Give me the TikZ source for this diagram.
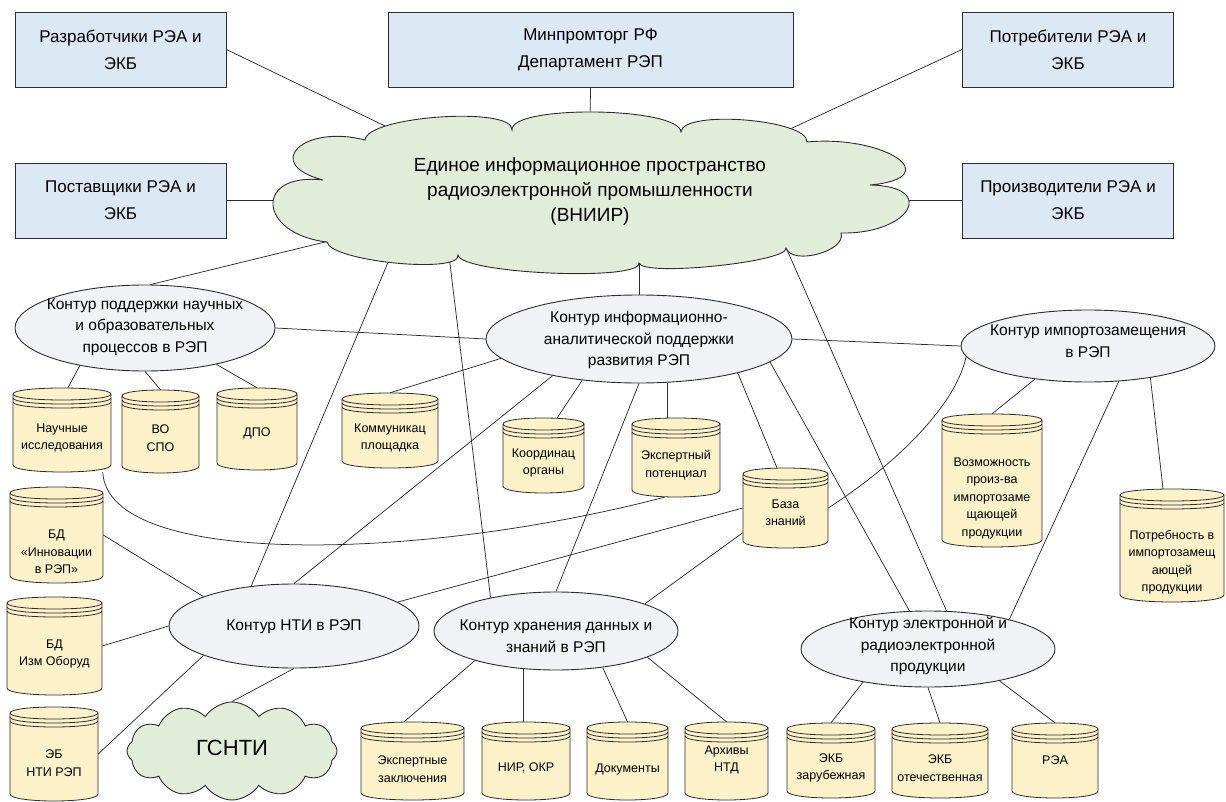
\documentclass[tikz,border=0pt]{standalone}
\usepackage{fontspec}
\setmainfont{Liberation Sans}
\usetikzlibrary{shapes.geometric,shapes.symbols,calc}
\pgfdeclarelayer{background}
\pgfsetlayers{background,main}
\definecolor{boxfill}{RGB}{220,233,244}
\definecolor{cloudfill}{RGB}{226,237,217}
\definecolor{ellfill}{RGB}{241,242,245}
\definecolor{dbfillc}{RGB}{252,241,200}
\definecolor{edgec}{RGB}{45,45,45}
\tikzset{
  topbox/.style={draw=edgec, line width=0.9pt, fill=boxfill, minimum width=211pt, minimum height=75pt, inner sep=0pt, align=center, font=\fontsize{17}{27}\selectfont},
  cloudsh/.style={cloud, draw=edgec, line width=0.9pt, fill=cloudfill, inner sep=0pt},
  cloudpath/.style={draw=edgec, line width=0.9pt, fill=cloudfill},
  anchorell/.style={ellipse, draw=none, fill=none, inner sep=0pt},
  cloudtext/.style={inner sep=0pt, align=center, font=\fontsize{19}{25}\selectfont},
  ell/.style={ellipse, draw=edgec, line width=0.9pt, fill=ellfill, inner sep=0pt},
  elltext/.style={inner sep=0pt, align=center, font=\fontsize{15.5}{21.5}\selectfont},
  dbshape/.style={draw=edgec, line width=0.8pt, fill=dbfillc},
  dbline/.style={draw=edgec, line width=0.8pt},
  dbarea/.style={rectangle, draw=none, inner sep=0pt},
  dbtext/.style={inner sep=0pt, align=center, font=\fontsize{12.5}{17.5}\selectfont},
  conn/.style={draw=edgec, line width=0.75pt}
}
\newcommand\cbump[6]{.. controls ({#1+1.3333*((#3)-((#1)+(#5))/2)},{#2+1.3333*((#4)-((#2)+(#6))/2)}) and ({#5+1.3333*((#3)-((#1)+(#5))/2)},{#6+1.3333*((#4)-((#2)+(#6))/2)}) .. (#5,#6)}
\newcommand\dbcyl[7]{%
  \pgfmathsetmacro\dbXa{#2}\pgfmathsetmacro\dbXb{#4}%
  \pgfmathsetmacro\dbYa{#3+6}%
  \pgfmathsetmacro\dbYc{#3-2}%
  \pgfmathsetmacro\dbYf{#3+14}%
  \pgfmathsetmacro\dbYs{#5-7}%
  \pgfmathsetmacro\dbYb{#5+2.33}%
  \pgfmathsetmacro\dbW{#4-#2}\pgfmathsetmacro\dbH{#5-#3}%
  \pgfmathsetmacro\dbCx{(#2+#4)/2}\pgfmathsetmacro\dbCy{(#3+#5)/2}%
  \filldraw[dbshape] (\dbXa,\dbYa) -- (\dbXa,\dbYs) .. controls (\dbXa,\dbYb) and (\dbXb,\dbYb) .. (\dbXb,\dbYs) -- (\dbXb,\dbYa) .. controls (\dbXb,\dbYc) and (\dbXa,\dbYc) .. (\dbXa,\dbYa) -- cycle;
  \draw[dbline] (\dbXa,\dbYa) .. controls (\dbXa,\dbYf) and (\dbXb,\dbYf) .. (\dbXb,\dbYa);
  \draw[dbline] (\dbXa,\dbYa+4) .. controls (\dbXa,\dbYf+4) and (\dbXb,\dbYf+4) .. (\dbXb,\dbYa+4);
  \draw[dbline] (\dbXa,\dbYa+8) .. controls (\dbXa,\dbYf+8) and (\dbXb,\dbYf+8) .. (\dbXb,\dbYa+8);
  \node[dbarea, minimum width=\dbW pt, minimum height=\dbH pt] (#1) at (\dbCx,\dbCy) {};
  \node[dbtext] (#1-t) at (\dbCx,#6) {#7};
}
\begin{document}
\begin{tikzpicture}[x=1pt,y=-1pt]
\useasboundingbox (0,0) rectangle (1226,802);

% top boxes
\node[topbox] (razr) at (120.5,49.5) {Разработчики РЭА и\\ЭКБ};
\node[topbox, minimum width=405pt] (minprom) at (590.5,49.5) {Минпромторг РФ\\Департамент РЭП};
\node[topbox] (potreb) at (1068,49.5) {Потребители РЭА и\\ЭКБ};
\node[topbox] (postav) at (120.5,200.5) {Поставщики РЭА и\\ЭКБ};
\node[topbox] (proizv) at (1068,200.5) {Производители РЭА и\\ЭКБ};

% main cloud (outline drawn as a path, anchor ellipse inside it)
\filldraw[cloudpath] (323,180)
  \cbump{323}{180}{273}{205}{327}{242}
  \cbump{327}{242}{395}{263}{458}{255}
  \cbump{458}{255}{550}{273}{639}{263}
  \cbump{639}{263}{715}{266}{786}{248}
  \cbump{786}{248}{818}{254}{841}{233}
  \cbump{841}{233}{907}{210}{870}{185}
  \cbump{870}{185}{897}{158}{807}{142}
  \cbump{807}{142}{745}{120}{681}{132}
  \cbump{681}{132}{595}{112}{512}{130}
  \cbump{512}{130}{440}{117}{365}{140}
  \cbump{365}{140}{298}{148}{323}{180}
  -- cycle;
\node[anchorell, minimum width=560pt, minimum height=120pt] (eip) at (590,192) {};
\node[cloudtext] (eip-t) at (590,192) {Единое информационное пространство\\радиоэлектронной промышленности\\(ВНИИР)};

% ellipses
\node[ell, minimum width=260pt, minimum height=86pt] (nauch) at (145,328) {};
\node[elltext] (nauch-t) at (145,327) {Контур поддержки научных\\и образовательных\\процессов в  РЭП};
\node[ell, minimum width=306pt, minimum height=88pt] (info) at (639,339) {};
\node[elltext] (info-t) at (639,340) {Контур информационно-\\аналитической поддержки\\развития  РЭП};
\node[ell, minimum width=254pt, minimum height=72pt] (imp) at (1088,346) {};
\node[elltext] (imp-t) at (1088,341) {Контур импортозамещения\\в РЭП};
\node[ell, minimum width=250pt, minimum height=84pt] (nti) at (294,626) {};
\node[elltext] (nti-t) at (294,627) {Контур НТИ в РЭП};
\node[ell, minimum width=244pt, minimum height=78pt] (hran) at (556,631) {};
\node[elltext] (hran-t) at (556,636) {Контур хранения данных и\\знаний в РЭП};
\node[ell, minimum width=254pt, minimum height=76pt] (elec) at (928,649) {};
\node[elltext] (elec-t) at (928,646) {Контур электронной и\\радиоэлектронной\\продукции};

% GSNTI cloud
\node[cloudsh, cloud puffs=12, cloud puff arc=115, aspect=2.1, minimum width=210pt, minimum height=98pt] (gsnti) at (232,751) {};
\node[inner sep=0pt, font=\fontsize{22}{26}\selectfont] (gsnti-t) at (232,748) {ГСНТИ};

% cylinders
\dbcyl{nauchi}{13}{388}{111}{472}{438}{Научные\\исследования}
\dbcyl{vospo}{122}{390}{199}{473}{438}{ВО\\СПО}
\dbcyl{dpo}{217}{388}{297}{470}{433}{ДПО}
\dbcyl{komm}{342}{393}{438}{468}{438}{Коммуникац\\площадка}
\dbcyl{koord}{503}{418}{584}{493}{463}{Координац\\органы}
\dbcyl{ekspot}{632}{418}{720}{497}{465}{Экспертный\\потенциал}
\dbcyl{baza}{743}{468}{828}{548}{513}{База\\знаний}
\dbcyl{vozm}{942}{414}{1042}{547}{498}{Возможность\\произ-ва\\импортозаме\\щающей\\продукции}
\dbcyl{potrimp}{1120}{489}{1224}{602}{562}{Потребность в\\импортозамещ\\ающей\\продукции}
\dbcyl{bdinn}{10}{487}{103}{583}{552}{БД\\«Инновации\\в РЭП»}
\dbcyl{bdizm}{7}{597}{102}{695}{654}{БД\\Изм Оборуд}
\dbcyl{ebnti}{10}{707}{98}{801}{763}{ЭБ\\НТИ  РЭП}
\dbcyl{ekszak}{361}{722}{464}{800}{769}{Экспертные\\заключения}
\dbcyl{nir}{482}{722}{570}{800}{768}{НИР, ОКР}
\dbcyl{docs}{587}{722}{668}{800}{769}{Документы}
\dbcyl{arch}{685}{722}{768}{800}{760}{Архивы\\НТД}
\dbcyl{ekbz}{787}{723}{875}{798}{768}{ЭКБ\\зарубежная}
\dbcyl{ekbo}{892}{723}{988}{798}{768}{ЭКБ\\отечественная}
\dbcyl{rea}{1012}{723}{1098}{798}{760}{РЭА}

\begin{pgfonlayer}{background}
\draw[conn] (razr.east) -- (eip.164);
\draw[conn] (postav.east) -- (postav.east -| eip.west);
\draw[conn] (minprom.south) -- (eip.north);
\draw[conn] (potreb.west) -- (eip.16);
\draw[conn] (proizv.west) -- (proizv.west -| eip.east);
\draw[conn] (eip.190.5) -- (nauch.83);
\draw[conn] (eip.193.8) -- (nti.137);
\draw[conn] (eip.200.3) -- (hran.153);
\draw[conn] (info.north) -- (info.north |- eip.center);
\draw[conn] (eip.347) -- (elec.64);
\draw[conn] (nauch.east) -- (info.west);
\draw[conn] (info.east) -- (imp.west);
\draw[conn] (info.188) -- (komm.north);
\draw[conn] (info.216) -- (koord.70);
\draw[conn] (info.303) -- (info.303 |- ekspot.north);
\draw[conn] (info.341) -- (baza.102);
\draw[conn] (info.203) -- (nti.north);
\draw[conn] (info.south) -- (hran.north);
\draw[conn] (info.350) -- (elec.116);
\draw[conn] (imp.212) -- (vozm.north);
\draw[conn] (imp.333) -- (potrimp.99);
\draw[conn] (imp.311) -- (elec.20);
\draw[conn] (elec.207) -- (ekbz.north);
\draw[conn] (elec.south) -- (ekbo.north);
\draw[conn] (elec.336) -- (rea.north);
\draw[conn] (hran.200) -- (ekszak.102);
\draw[conn] (hran.229) -- (hran.229 |- nir.north);
\draw[conn] (hran.322) -- (docs.north);
\draw[conn] (hran.344) -- (arch.north);
\draw[conn] (baza.210) -- (hran.17);
\draw[conn] (baza.west) -- (nti.13);
\draw[conn] (bdinn.east) -- (nti.162);
\draw[conn] (bdizm.east) -- (nti.west);
\draw[conn] (ebnti.east) -- (nti.198);
\draw[conn] (gsnti.north) -- (nti.south);
\draw[conn] (nauch.210) -- (nauchi.82);
\draw[conn] (nauch.south) -- (vospo.north);
\draw[conn] (nauch.333) -- (dpo.north);
\draw[conn] (nauchi.314) .. controls +(5,95) and +(-250,65) .. (ekspot.254);
\draw[conn] (baza.east) .. controls +(55,-35) and +(-12,55) .. (imp.185);
\end{pgfonlayer}
\end{tikzpicture}
\end{document}
